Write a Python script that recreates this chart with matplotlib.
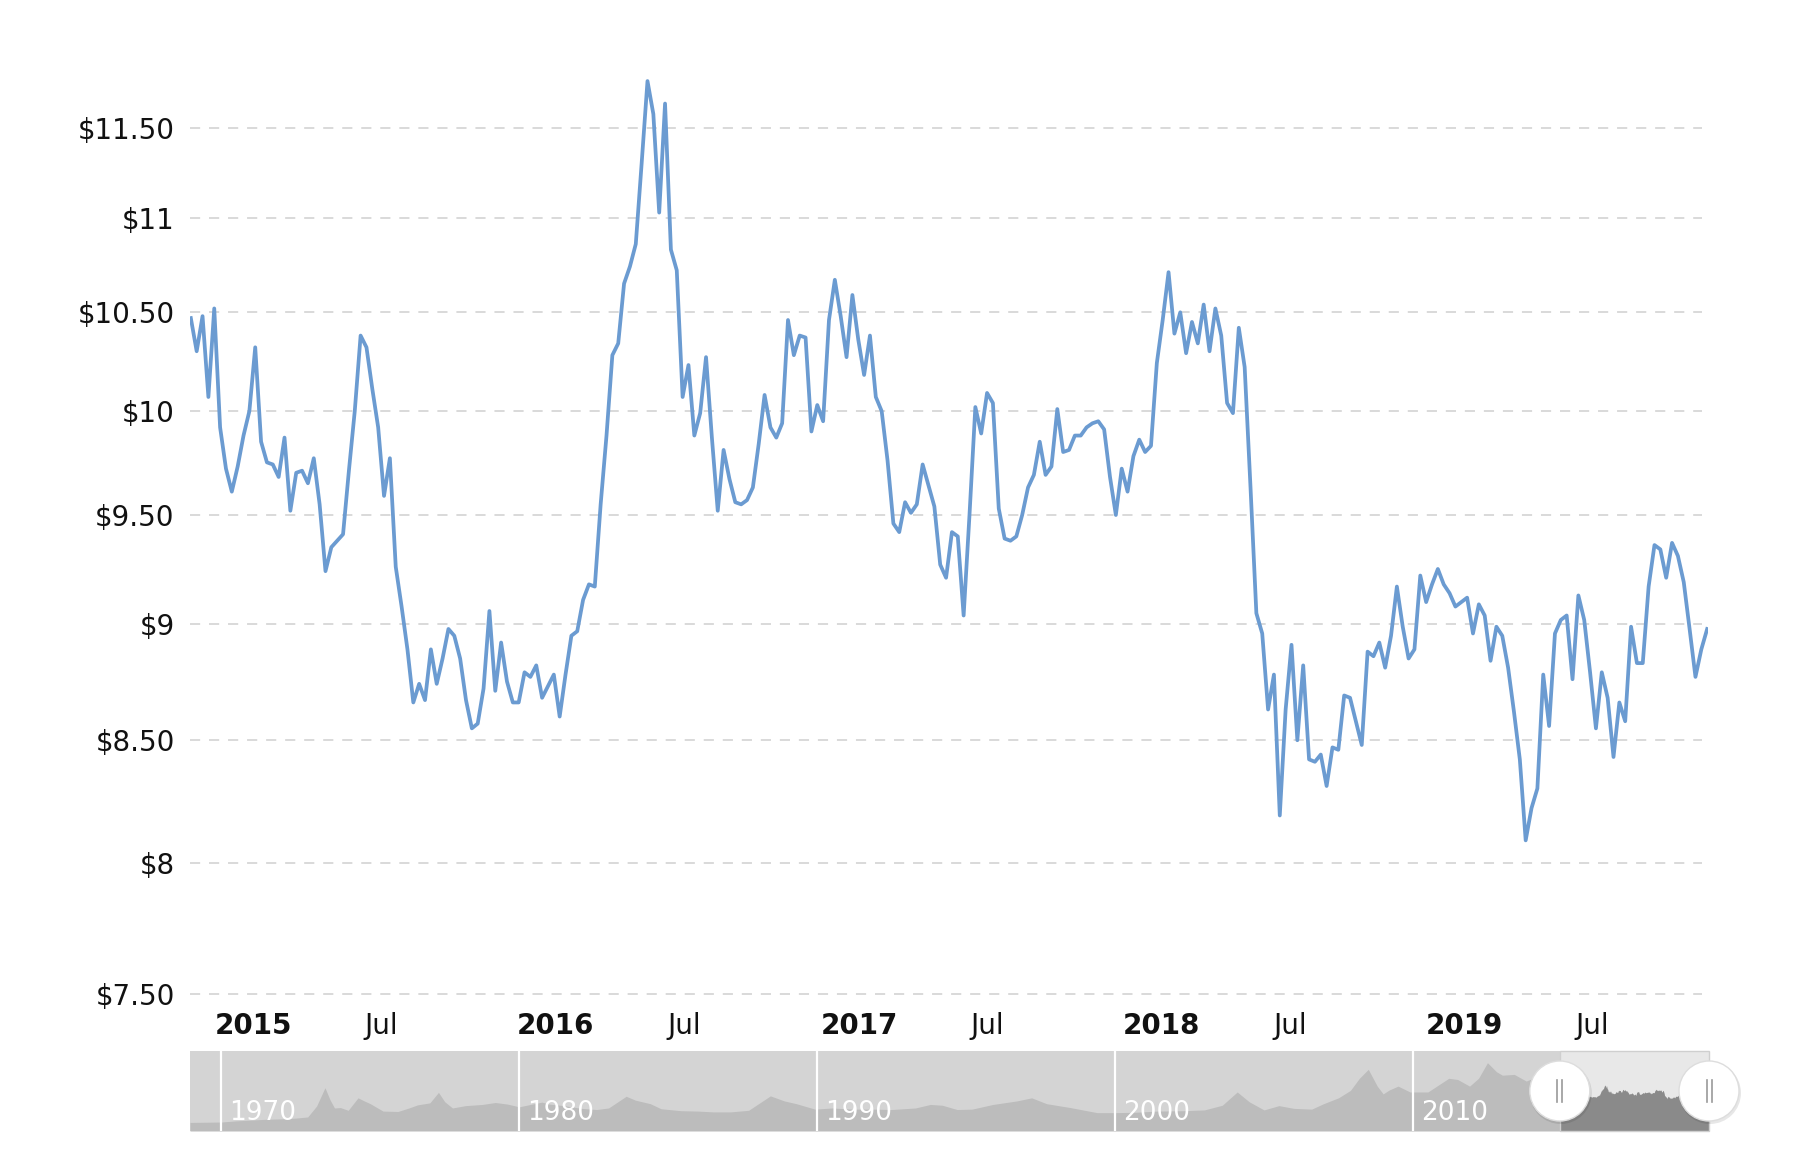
import numpy as np
import pandas as pd
import matplotlib
matplotlib.use("Agg")
import matplotlib.pyplot as plt
import matplotlib.transforms as mtransforms
from matplotlib.ticker import NullLocator, NullFormatter
from matplotlib.patches import Circle, Rectangle

# ---------------- data ----------------
prices = [
    10.47, 10.30, 10.48, 10.07, 10.52, 9.92, 9.72, 9.61, 9.73, 9.88, 10.00, 10.32, 9.85, 9.75, 9.74, 9.68,
    9.87, 9.52, 9.70, 9.71, 9.65, 9.77, 9.55, 9.24, 9.35, 9.38, 9.41,
    9.71, 10.00, 10.38, 10.32, 10.11, 9.92, 9.59, 9.77, 9.26, 9.08, 8.89, 8.66, 8.74, 8.67, 8.89, 8.74,
    8.85, 8.98, 8.95, 8.85, 8.67, 8.55, 8.57, 8.72, 9.06, 8.71,
    8.92, 8.75, 8.66, 8.66, 8.79, 8.77, 8.82, 8.68, 8.73, 8.78, 8.60, 8.78, 8.95, 8.97, 9.11, 9.18,
    9.17, 9.55, 9.88, 10.28, 10.34, 10.65, 10.74, 10.86, 11.30, 11.77,
    11.58, 11.03, 11.64, 10.83, 10.72, 10.07, 10.23, 9.88, 9.99, 10.27, 9.87, 9.52, 9.81, 9.67, 9.56,
    9.55, 9.57, 9.63, 9.84, 10.08, 9.92, 9.87, 9.94, 10.46, 10.28, 10.38, 10.37,
    9.90, 10.03, 9.95, 10.46, 10.67, 10.48, 10.27, 10.59, 10.36, 10.18, 10.38, 10.07, 10.00, 9.76, 9.46,
    9.42, 9.56, 9.51, 9.55, 9.74, 9.64, 9.54, 9.27, 9.21, 9.42, 9.40,
    9.04, 9.50, 10.02, 9.89, 10.09, 10.04, 9.53, 9.39, 9.38, 9.40, 9.50, 9.63, 9.69, 9.85, 9.69, 9.73,
    10.01, 9.80, 9.81, 9.88, 9.88, 9.92, 9.94, 9.95, 9.91, 9.68,
    9.50, 9.72, 9.61, 9.78, 9.86, 9.80, 9.83, 10.24, 10.46, 10.71, 10.39, 10.50, 10.29, 10.45, 10.34,
    10.54, 10.30, 10.52, 10.38, 10.04, 9.99, 10.42, 10.22, 9.63, 9.05, 8.96,
    8.63, 8.78, 8.19, 8.63, 8.91, 8.50, 8.82, 8.42, 8.41, 8.44, 8.31, 8.47, 8.46, 8.69, 8.68, 8.58,
    8.48, 8.88, 8.86, 8.92, 8.81, 8.95, 9.17, 8.99, 8.85,
    8.89, 9.22, 9.10, 9.18, 9.25, 9.18, 9.14, 9.08, 9.10, 9.12, 8.96, 9.09, 9.04, 8.84, 8.99, 8.95,
    8.81, 8.62, 8.42, 8.09, 8.22, 8.30, 8.78, 8.56, 8.96, 9.02,
    9.04, 8.76, 9.13, 9.02, 8.79, 8.55, 8.79, 8.68, 8.43, 8.66, 8.58, 8.99, 8.83, 8.83, 9.17, 9.36,
    9.34, 9.21, 9.37, 9.31, 9.19, 8.98, 8.77, 8.89, 8.98,
]
first_date = "2014-12-06"
last_date = "2019-12-09"

y_ticks = [7.5, 8, 8.5, 9, 9.5, 10, 10.5, 11, 11.5]
y_labels = ["$7.50", "$8", "$8.50", "$9", "$9.50", "$10", "$10.50", "$11", "$11.50"]

x_tick_dates = ["2015-01-01", "2015-07-01", "2016-01-01", "2016-07-01", "2017-01-01",
                "2017-07-01", "2018-01-01", "2018-07-01", "2019-01-01", "2019-07-01"]
x_tick_labels = ["2015", "Jul", "2016", "Jul", "2017", "Jul", "2018", "Jul", "2019", "Jul"]
x_tick_bold = [True, False, True, False, True, False, True, False, True, False]

# navigator (full history, before the selected range)
nav_years = [1968.95, 1969.5, 1970.0, 1970.5, 1971.0, 1971.5, 1972.0, 1972.5, 1972.9, 1973.2,
             1973.48, 1973.65, 1973.8, 1974.0, 1974.26, 1974.59, 1974.8, 1975.0, 1975.43, 1975.93,
             1976.3, 1976.59, 1977.0, 1977.29, 1977.5, 1977.76, 1978.2, 1978.76, 1979.2, 1979.6,
             1980.0, 1980.76, 1981.0, 1981.5, 1982.09, 1982.6, 1983.0, 1983.59, 1983.9, 1984.4,
             1984.76, 1985.43, 1986.0, 1986.5, 1987.1, 1987.7, 1988.43, 1988.9, 1989.3, 1989.93,
             1990.5, 1991.2, 1991.9, 1992.5, 1993.3, 1993.8, 1994.2, 1994.7, 1995.2, 1995.9,
             1996.7, 1997.2, 1997.7, 1998.5, 1999.4, 2000.0, 2000.7, 2001.4, 2002.3, 2003.0,
             2003.6, 2004.1, 2004.5, 2005.0, 2005.5, 2006.0, 2006.6, 2007.0, 2007.5, 2007.9,
             2008.2, 2008.5, 2008.8, 2009.0, 2009.2, 2009.5, 2009.9, 2010.5, 2010.9, 2011.2,
             2011.5, 2011.9, 2012.2, 2012.5, 2012.8, 2013.0, 2013.4, 2013.8, 2014.1, 2014.5, 2014.85]
nav_values = [2.2, 2.25, 2.3, 2.6, 2.8, 3.0, 3.1, 3.3, 3.6, 6.4,
              11.1, 8.0, 5.9, 6.0, 5.3, 8.5, 7.7, 7.0, 5.1, 5.0,
              5.9, 6.7, 7.2, 9.9, 7.5, 5.9, 6.5, 6.8, 7.3, 6.9,
              6.2, 7.4, 6.9, 6.5, 5.8, 5.5, 5.9, 8.9, 7.9, 7.0,
              5.7, 5.2, 5.1, 4.9, 4.9, 5.3, 9.0, 7.7, 7.0, 5.6,
              5.9, 5.6, 5.6, 5.5, 5.9, 6.8, 6.6, 5.5, 5.6, 6.8,
              7.7, 8.5, 7.0, 6.0, 4.7, 4.7, 4.8, 5.1, 5.2, 5.4,
              6.6, 10.0, 7.5, 5.4, 6.5, 5.8, 5.6, 7.0, 8.5, 10.4,
              13.5, 15.8, 11.5, 9.5, 10.5, 11.5, 10.0, 10.0, 12.0, 13.5,
              13.2, 11.5, 13.5, 17.5, 15.2, 14.3, 14.5, 12.8, 13.7, 12.0, 10.4]
decades = [1970, 1980, 1990, 2000, 2010]

# ---------------- figure ----------------
W, H = 1795, 1167
plt.rcParams["lines.scale_dashes"] = False
plt.rcParams["font.family"] = ["DejaVu Sans"]
fig = plt.figure(figsize=(W / 100, H / 100), dpi=100)
fig.patch.set_facecolor("white")

dates = pd.date_range(first_date, last_date, periods=len(prices))

ax_l, ax_r, ax_t, ax_b = 190, 1708, 50, 1000
ax = fig.add_axes([ax_l / W, 1 - ax_b / H, (ax_r - ax_l) / W, (ax_b - ax_t) / H])
ax.set_yscale("log")
ax.set_ylim(7.4767, 11.952)
ax.set_xlim(dates[0] - pd.Timedelta(days=1), dates[-1] + pd.Timedelta(days=1))
for s in ax.spines.values():
    s.set_visible(False)
ax.set_facecolor("white")

for v in y_ticks:
    ax.axhline(v, color="#d9d9d9", lw=1.4, dashes=(7.3, 6.4), xmax=0.996, zorder=1)

ax.plot(dates, prices, color="#6b9bd1", lw=2.7, solid_joinstyle="round", zorder=3)

ax.yaxis.set_minor_locator(NullLocator())
ax.yaxis.set_minor_formatter(NullFormatter())
ax.set_yticks(y_ticks)
ax.set_yticklabels(y_labels)
ax.tick_params(axis="y", length=0, pad=11, labelsize=20, labelcolor="#111111")

ax.set_xticks(pd.to_datetime(x_tick_dates))
ax.set_xticklabels(x_tick_labels)
ax.tick_params(axis="x", length=0, pad=9, labelsize=20, labelcolor="#111111")
shift = mtransforms.ScaledTranslation(2.0 / 100, 0, fig.dpi_scale_trans)
for lbl, b in zip(ax.get_xticklabels(), x_tick_bold):
    lbl.set_horizontalalignment("left")
    lbl.set_transform(lbl.get_transform() + shift)
    if b:
        lbl.set_fontweight("bold")

# ---------------- navigator ----------------
def dec_year(ts):
    return ts.year + (ts.dayofyear - 1) / 365.25

main_years = np.array([dec_year(d) for d in dates])
all_years = np.concatenate([nav_years, main_years])
all_vals = np.concatenate([nav_values, prices])

nv_l, nv_r, nv_t, nv_b = 190, 1709, 1051, 1131
nav = fig.add_axes([nv_l / W, 1 - nv_b / H, (nv_r - nv_l) / W, (nv_b - nv_t) / H])
nav.set_xlim(all_years[0], all_years[-1])
nav.set_ylim(0, 20.5)
nav.set_facecolor("#d4d4d4")
for s in nav.spines.values():
    s.set_visible(False)
nav.set_xticks([])
nav.set_yticks([])

sel_start, sel_end = main_years[0], main_years[-1]
nav.axvspan(sel_start, sel_end, color="#e8e8e8", zorder=0.5, lw=0)
nav.fill_between(all_years, 0, all_vals, color="#bcbcbc", lw=0, zorder=1)
nav.fill_between(main_years, 0, prices, color="#8a8a8a", lw=0, zorder=1.5)
nav.add_patch(Rectangle((sel_start, 0), sel_end - sel_start, 20.5, fill=False,
                        edgecolor="#cfcfcf", lw=1.0, zorder=1.8, clip_on=False))

for d in decades:
    nav.axvline(d, color="white", lw=1.6, zorder=2)
    nav.annotate(str(d), xy=(d, 0), xytext=(6, 8), textcoords="offset points",
                 color="white", fontsize=19, va="baseline", ha="left", zorder=3)

# handles
over = fig.add_axes([0, 0, 1, 1], facecolor="none")
over.set_xlim(0, W)
over.set_ylim(0, H)
over.axis("off")
for yr in (sel_start, sel_end):
    cx, cy = nav.transData.transform((yr, 10.25))
    over.add_patch(Circle((cx + 1, cy - 2), 31, color="#00000018", lw=0, zorder=1))
    over.add_patch(Circle((cx, cy), 30, facecolor="white", edgecolor="#dddddd", lw=1, zorder=2))
    for dx in (-2.5, 2.5):
        over.plot([cx + dx, cx + dx], [cy - 11, cy + 11], color="#9a9a9a", lw=1.2, zorder=3)

fig.savefig("out.png", dpi=100, facecolor="white")
